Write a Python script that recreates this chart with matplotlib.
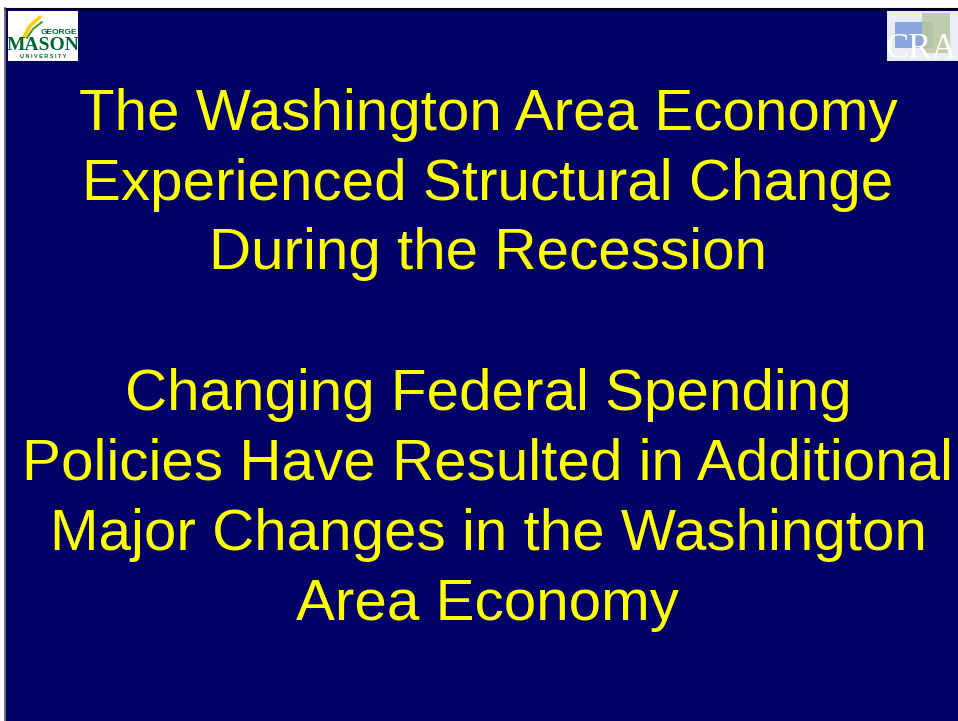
import matplotlib
matplotlib.use("Agg")
from matplotlib import pyplot as plt
from matplotlib.patches import Rectangle

# slide text
title_lines = ["The Washington Area Economy",
               "Experienced Structural Change",
               "During the Recession"]
body_lines = ["Changing Federal Spending",
              "Policies Have Resulted in Additional",
              "Major Changes in the Washington",
              "Area Economy"]

W, H = 958, 721
navy = "#000066"
yellow = "#FFFF00"

fig = plt.figure(figsize=(W / 100, H / 100), dpi=100)
fig.patch.set_facecolor("white")
ax = fig.add_axes([0, 0, 1, 1])
ax.set_xlim(0, W)
ax.set_ylim(H, 0)
ax.axis("off")

# slide background + border
ax.add_patch(Rectangle((6, 9), W - 6, H - 9, facecolor=navy, edgecolor="none"))
ax.plot([5, W], [8.5, 8.5], color="black", lw=1.5)
ax.plot([5.5, 5.5], [8, H], color="#555555", lw=1.2)

# GMU logo (approximation)
ax.add_patch(Rectangle((8, 11), 70, 50, facecolor="white", edgecolor="none"))
ax.text(77, 32, "GEORGE", color="#006633", fontsize=6, fontweight="bold",
        ha="right", va="center", family="Liberation Sans")
ax.text(43, 45, "MASON", color="#006633", fontsize=14, fontweight="bold",
        ha="center", va="center", family="Liberation Serif")
ax.text(43, 57, "U N I V E R S I T Y", color="#006633", fontsize=4,
        fontweight="bold", ha="center", va="center", family="Liberation Sans")
ax.plot([24, 30, 40], [37, 26, 17], color="#FFCC00", lw=2.5, solid_capstyle="round")
ax.plot([27, 33, 42], [38, 29, 22], color="#4C9A2A", lw=1.5, solid_capstyle="round")

# CRA logo (approximation)
ax.add_patch(Rectangle((887, 11), 71, 50, facecolor="#E8EEF4", edgecolor="none"))
ax.add_patch(Rectangle((895, 22), 38, 26, facecolor="#7A9AD8", edgecolor="none", alpha=0.85))
ax.add_patch(Rectangle((922, 13), 28, 40, facecolor="#B8C8A0", edgecolor="none", alpha=0.85))
ax.text(886, 50, "CRA", color="white", fontsize=25, ha="left", va="center",
        family="Liberation Serif", clip_on=True)

# slide text
y0 = 115
for i, line in enumerate(title_lines):
    ax.text(488, y0 + i * 69.5, line, color=yellow, fontsize=42,
            ha="center", va="center", family="Liberation Sans")
y1 = 395
for i, line in enumerate(body_lines):
    ax.text(488, y1 + i * 70, line, color=yellow, fontsize=42,
            ha="center", va="center", family="Liberation Sans")

fig.savefig("out.png", dpi=100, facecolor=fig.get_facecolor())
